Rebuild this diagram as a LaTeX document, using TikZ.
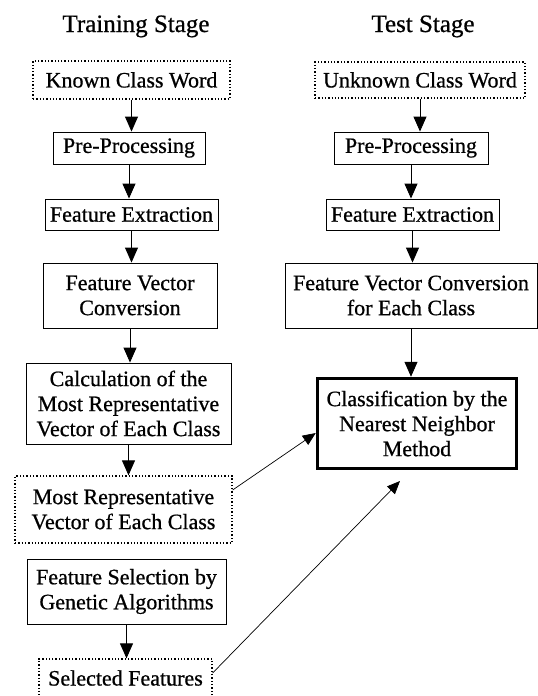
\documentclass[tikz,border=0pt]{standalone}
\usepackage{fontspec}
\setmainfont[FakeBold=0.7]{Liberation Serif}
\usetikzlibrary{arrows.meta}
\begin{document}
\begin{tikzpicture}[x=1pt,y=-1pt,
  box/.style={draw, line width=0.9pt, inner sep=0pt, align=center,
    font=\fontsize{22}{25}\selectfont},
  dotbox/.style={box, line width=1.3pt, dash pattern=on 1.3pt off 2pt},
  thickbox/.style={box, line width=3.5pt},
  title/.style={anchor=base, font=\fontsize{25}{28}\selectfont},
  arr/.style={line width=0.9pt, -{Triangle[length=15pt,width=13pt]}},
  diag/.style={line width=0.7pt, -{Triangle[length=13pt,width=11pt]}}]
\useasboundingbox[fill=white] (0,0) rectangle (538,696);

\node[title] (t1) at (136,32) {Training Stage};
\node[title] (t2) at (423,32) {Test Stage};

% training column
\node[dotbox, minimum width=197pt, minimum height=38pt] (known) at (131.5,80) {Known Class Word};
\node[box, minimum width=152pt, minimum height=32pt] (pre1) at (129,148) {Pre-Processing};
\node[box, minimum width=173pt, minimum height=31pt] (fe1) at (131.5,214.5) {Feature Extraction};
\node[box, minimum width=174pt, minimum height=65pt] (fvc1) at (130,295.5) {Feature Vector\\Conversion};
\node[box, minimum width=205pt, minimum height=81pt] (calc) at (128.5,403.5) {Calculation of the\\Most Representative\\Vector of Each Class};
\node[dotbox, minimum width=217pt, minimum height=67pt] (mrv) at (123.5,509.5) {Most Representative\\Vector of Each Class};
\node[box, minimum width=199pt, minimum height=65pt] (fs) at (126.5,591.5) {Feature Selection by\\Genetic Algorithms};
\node[dotbox, minimum width=173pt, minimum height=38pt] (sel) at (125.5,678) {Selected Features};

% test column
\node[dotbox, minimum width=210pt, minimum height=36pt] (unk) at (420,80) {Unknown Class Word};
\node[box, minimum width=154pt, minimum height=32pt] (pre2) at (411,148) {Pre-Processing};
\node[box, minimum width=173pt, minimum height=31pt] (fe2) at (412.5,214.5) {Feature Extraction};
\node[box, minimum width=252pt, minimum height=65pt] (fvc2) at (411,295.5) {Feature Vector Conversion\\for Each Class};
\node[thickbox, minimum width=199pt, minimum height=90pt] (cls) at (417,423.5) {Classification by the\\Nearest Neighbor\\Method};

\coordinate (tip) at (400,481);

% arrows
\draw[arr] (known.south) -- (known.south |- pre1.north);
\draw[arr] (pre1.south) -- (pre1.south |- fe1.north);
\draw[arr] (fe1.south) -- (fe1.south |- fvc1.north);
\draw[arr] (fvc1.south) -- (fvc1.south |- calc.north);
\draw[arr] (calc.south) -- (calc.south |- mrv.north);
\draw[arr] (fs.south) -- (fs.south |- sel.north);

\draw[arr] (unk.south) -- (unk.south |- pre2.north);
\draw[arr] (pre2.south) -- (pre2.south |- fe2.north);
\draw[arr] (fe2.south) -- (fe2.south |- fvc2.north);
\draw[arr] (fvc2.south) -- (fvc2.south |- cls.north);

\draw[diag] ([yshift=19.5pt]mrv.east) -- ([yshift=-9.5pt]cls.west);
\draw[diag] ([yshift=5pt]sel.east) -- (tip);
\end{tikzpicture}
\end{document}
